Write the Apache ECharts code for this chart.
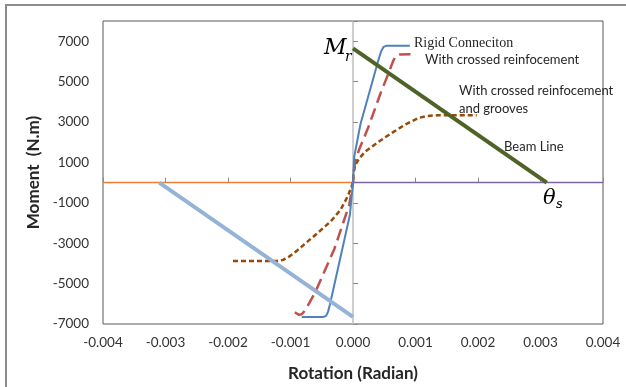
<!DOCTYPE html>
<html>
<head>
<meta charset="utf-8">
<script src="https://cdn.jsdelivr.net/npm/echarts@6/dist/echarts.min.js"></script>
<style>
  html, body { margin: 0; padding: 0; background: #fff; }
  #chart { width: 626px; height: 387px; }
</style>
</head>
<body>
<div id="chart"></div>
<script>
// rotation (rad), moment (N.m) pairs
const rigid = [
  [-0.00082, -6650], [-0.00048, -6650], [-0.00043, -6600], [-0.00040, -6400],
  [-0.00037, -6050], [-0.00005, -1600], [0, 0], [0.00002, 1300], [0.00012, 2900],
  [0.00040, 6000], [0.00045, 6500], [0.00049, 6720], [0.00054, 6780], [0.00091, 6780]
];
const crossed = [
  [-0.00093, -6420], [-0.00087, -6540], [-0.00082, -6520], [-0.00076, -6300],
  [-0.00060, -5400], [-0.00030, -3300], [-0.00006, -1100], [0, 0], [0.00003, 1000],
  [0.00010, 1650], [0.00024, 2700], [0.00045, 4500], [0.00058, 5500],
  [0.00064, 6000], [0.00068, 6250], [0.00074, 6340], [0.00092, 6350]
];
const grooves = [
  [-0.00192, -3880], [-0.00122, -3880], [-0.00112, -3830], [-0.00103, -3680],
  [-0.00090, -3380], [-0.00075, -2980], [-0.00055, -2450], [-0.00035, -1900],
  [-0.00020, -1350], [-0.00008, -650], [0, 0], [0.00001, 550], [0.00004, 900],
  [0.00010, 1200], [0.00020, 1550], [0.00040, 2000], [0.00060, 2420],
  [0.00085, 2900], [0.00105, 3200], [0.00118, 3300], [0.00135, 3330], [0.00198, 3330]
];
const beamLine = [[0, 6650], [0.0031, 0]];
const beamLineNeg = [[-0.0031, 0], [0, -6650]];
const zeroLeft = [[-0.004, 0], [0, 0]];
const zeroRight = [[0, 0], [0.004, 0]];

const xTicks = { min: -0.004, max: 0.004, step: 0.001 };
const yTicks = { min: -7000, max: 8000, step: 2000 };

const font = 'Lato';
const chart = echarts.init(document.getElementById('chart'));

const line = (data, color, width, type, z) => ({
  type: 'line', data, symbol: 'none', z,
  xAxisIndex: 0, yAxisIndex: 0,
  lineStyle: { color, width, type, cap: 'butt', join: 'round' }
});

chart.setOption({
  animation: false,
  grid: { left: 103, right: 23, top: 21, bottom: 60, show: true, borderColor: '#595959', borderWidth: 1 },
  xAxis: [
    {
      type: 'value', min: xTicks.min, max: xTicks.max, interval: xTicks.step, position: 'bottom',
      axisLine: { show: false, onZero: false }, axisTick: { show: false }, splitLine: { show: false },
      axisLabel: { color: '#333', fontFamily: font, fontSize: 13.5, margin: 12, formatter: v => v.toFixed(3) },
      name: 'Rotation (Radian)', nameLocation: 'middle', nameGap: 41,
      nameTextStyle: { fontFamily: font, fontWeight: 'bold', fontSize: 17, color: '#262626' }
    },
    {
      type: 'value', min: xTicks.min, max: xTicks.max, interval: xTicks.step, position: 'bottom',
      axisLine: { show: true, onZero: true, onZeroAxisIndex: 0, lineStyle: { color: '#A6A6A6' } },
      axisTick: { show: true, inside: true, length: 5, lineStyle: { color: '#8C8C8C' } },
      axisLabel: { show: false }, splitLine: { show: false }
    }
  ],
  yAxis: [
    {
      type: 'value', min: yTicks.min, max: yTicks.max, interval: yTicks.step, position: 'left',
      axisLine: { show: false, onZero: false }, axisTick: { show: false }, splitLine: { show: false },
      axisLabel: { color: '#333', fontFamily: font, fontSize: 13.5, margin: 14, showMaxLabel: false,
        formatter: v => (v > 7000 ? '' : String(v)) },
      name: 'Moment  (N.m)', nameLocation: 'middle', nameGap: 60,
      nameTextStyle: { fontFamily: font, fontWeight: 'bold', fontSize: 17, color: '#262626' }
    },
    {
      type: 'value', min: yTicks.min, max: yTicks.max, interval: yTicks.step, position: 'left',
      axisLine: { show: true, onZero: true, onZeroAxisIndex: 0, lineStyle: { color: '#BFBFBF', width: 1.5 } },
      axisTick: { show: true, inside: true, length: 5, lineStyle: { color: '#8C8C8C' } },
      axisLabel: { show: false }, splitLine: { show: false }
    }
  ],
  series: [
    line(zeroLeft, '#ED7D31', 1.5, 'solid', 2),
    line(zeroRight, '#8064A2', 1.5, 'solid', 2),
    line(grooves, '#984807', 2.5, [5, 3], 3),
    line(crossed, '#C0504D', 2.5, [12, 6], 3),
    line(rigid, '#4F81BD', 2, 'solid', 4),
    line(beamLine, '#4F6228', 4, 'solid', 5),
    line(beamLineNeg, '#95B3D7', 4, 'solid', 5)
  ],
  graphic: [
    { type: 'rect', silent: true, z: -1, shape: { x: 6, y: 5, width: 640, height: 400 },
      style: { fill: 'none', stroke: '#8C8C8C', lineWidth: 2 } },
    { type: 'text', left: 414, top: 36, style: { text: 'Rigid Conneciton', font: '14px "Liberation Serif"', fill: '#262626' } },
    { type: 'text', left: 425, top: 53, style: { text: 'With crossed reinfocement', font: '13px Lato', fill: '#262626' } },
    { type: 'text', left: 459, top: 84, style: { text: 'With crossed reinfocement', font: '13px Lato', fill: '#262626' } },
    { type: 'text', left: 459, top: 102, style: { text: 'and grooves', font: '13px Lato', fill: '#262626' } },
    { type: 'text', left: 504, top: 140, style: { text: 'Beam Line', font: '13px Lato', fill: '#262626' } },
    { type: 'text', left: 324, top: 37, style: { text: 'M', font: 'italic 22px "DejaVu Serif"', fill: '#000' } },
    { type: 'text', left: 345, top: 50, style: { text: 'r', font: 'italic 14px "DejaVu Serif"', fill: '#000' } },
    { type: 'text', left: 543, top: 188, style: { text: 'θ', font: 'italic 21px "DejaVu Serif"', fill: '#000' } },
    { type: 'text', left: 556, top: 198, style: { text: 's', font: 'italic 13px "DejaVu Serif"', fill: '#000' } }
  ]
});
</script>
</body>
</html>
